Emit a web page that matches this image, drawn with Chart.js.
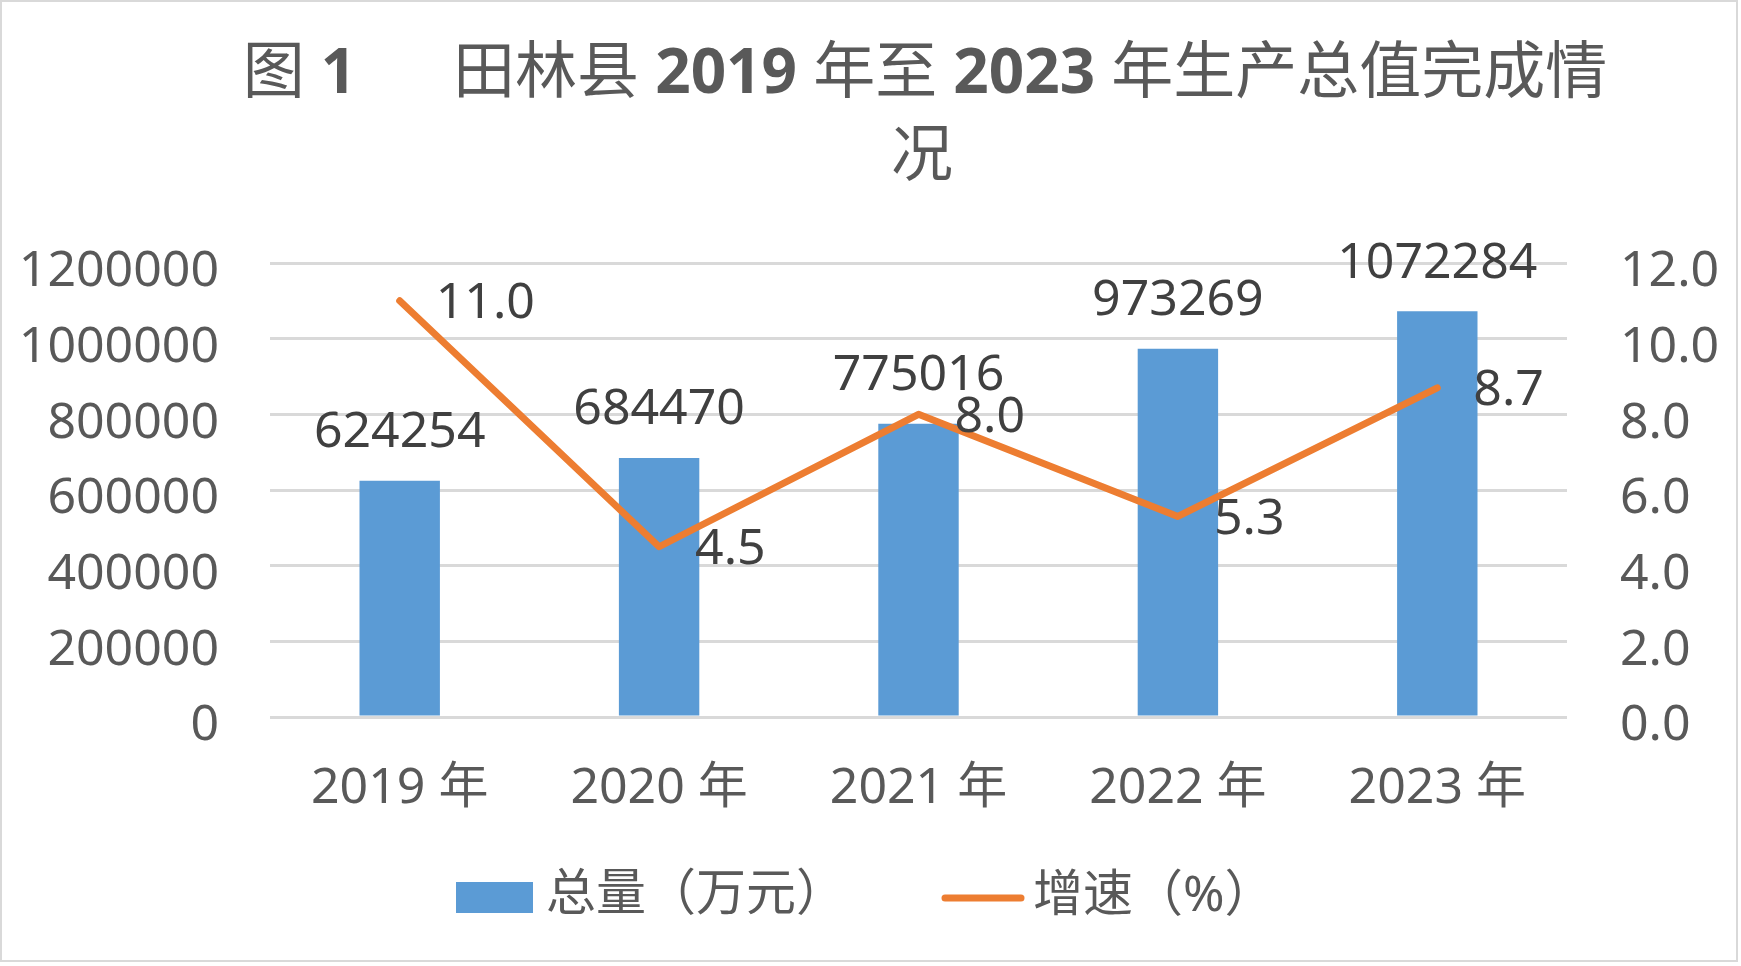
<!DOCTYPE html>
<html>
<head>
<meta charset="utf-8">
<script src="https://cdn.jsdelivr.net/npm/chart.js@4/dist/chart.umd.min.js"></script>
<style>
  html, body { margin: 0; padding: 0; background: #fff; }
  #wrap { position: relative; width: 1741px; height: 966px; }
  #frame { position: absolute; left: 0; top: 0; width: 1734px; height: 958px; border: 2px solid #d9d9d9; pointer-events: none; }
  canvas { position: absolute; left: 0; top: 0; }
</style>
</head>
<body>
<div id="wrap">
  <canvas id="gdpChart" width="1741" height="966"></canvas>
  <div id="frame"></div>
</div>
<script>
// chart data
const years = ['2019 年', '2020 年', '2021 年', '2022 年', '2023 年'];
const totalValues = [624254, 684470, 775016, 973269, 1072284];
const growthRates = [11.0, 4.5, 8.0, 5.3, 8.7];
const leftTicks = [0, 200000, 400000, 600000, 800000, 1000000, 1200000];
const rightTicks = [0.0, 2.0, 4.0, 6.0, 8.0, 10.0, 12.0];
const seriesNames = ['总量（万元）', '增速（%）'];
// title pieces: [text, bold]
const titleLine1 = [['图 ', false], ['1', true], ['      田林县 ', false], ['2019', true], [' 年至 ', false], ['2023', true], [' 年生产总值完成情', false]];
const titleLine2 = '况';

const FONT = "'Noto Sans', 'Noto Sans CJK SC', sans-serif";
const BLUE = '#5b9bd5';
const ORANGE = '#ed7d31';
const GREY = '#595959';

// draws title, legend and value labels
const annotate = {
  id: 'annotate',
  afterDatasetsDraw(chart) {
    const ctx = chart.ctx;
    ctx.save();
    ctx.font = '50px ' + FONT;
    ctx.fillStyle = '#404040';
    ctx.textBaseline = 'middle';

    // bar labels above bars
    ctx.textAlign = 'center';
    chart.getDatasetMeta(1).data.forEach((bar, i) => {
      ctx.fillText(String(totalValues[i]), bar.x, bar.y - 48);
    });

    // line labels to the right of the points
    ctx.textAlign = 'left';
    chart.getDatasetMeta(0).data.forEach((pt, i) => {
      ctx.fillText(growthRates[i].toFixed(1), pt.x + 36, pt.y + 3);
    });
    ctx.restore();
  },
  afterDraw(chart) {
    const ctx = chart.ctx;
    ctx.save();
    ctx.fillStyle = GREY;
    ctx.textBaseline = 'middle';

    // title, line 1 in pieces so the numbers can be bold
    const size = 62;
    let total = 0;
    titleLine1.forEach(([t, b]) => {
      ctx.font = (b ? 'bold ' : '') + size + 'px ' + FONT;
      total += ctx.measureText(t).width;
    });
    let x = 925 - total / 2;
    ctx.textAlign = 'left';
    titleLine1.forEach(([t, b]) => {
      ctx.font = (b ? 'bold ' : '') + size + 'px ' + FONT;
      ctx.fillText(t, x, 75);
      x += ctx.measureText(t).width;
    });
    ctx.font = size + 'px ' + FONT;
    ctx.textAlign = 'center';
    ctx.fillText(titleLine2, 922, 158);

    // legend
    ctx.font = '50px ' + FONT;
    ctx.textAlign = 'left';
    ctx.fillStyle = BLUE;
    ctx.fillRect(456, 882, 77, 31);
    ctx.fillStyle = GREY;
    ctx.fillText(seriesNames[0], 546, 896);

    ctx.strokeStyle = ORANGE;
    ctx.lineWidth = 7;
    ctx.lineCap = 'round';
    ctx.beginPath();
    ctx.moveTo(945, 898);
    ctx.lineTo(1021, 898);
    ctx.stroke();
    ctx.fillText(seriesNames[1], 1033, 897);
    ctx.restore();
  }
};

const chartData = {
  labels: years,
  datasets: [{
    type: 'line',
    label: seriesNames[1],
    data: growthRates,
    yAxisID: 'y1',
    borderColor: ORANGE,
    borderWidth: 7,
    borderCapStyle: 'round',
    borderJoinStyle: 'round',
    pointRadius: 0,
    tension: 0,
    order: 0
  }, {
    type: 'bar',
    label: seriesNames[0],
    data: totalValues,
    yAxisID: 'y',
    backgroundColor: BLUE,
    categoryPercentage: 1,
    barPercentage: 0.31,
    order: 1
  }]
};

const chartOptions = {
  responsive: false,
  devicePixelRatio: 1,
  animation: false,
  layout: { padding: { top: 263, bottom: 139, left: 0, right: 0 } },
  plugins: {
    legend: { display: false },
    title: { display: false },
    tooltip: { enabled: false }
  },
  scales: {
    x: {
      grid: { display: false },
      border: { display: false },
      ticks: { color: GREY, font: { family: FONT, size: 50 }, padding: 34 },
      afterFit(scale) { scale.height = 110; }
    },
    y: {
      position: 'left',
      min: 0,
      max: 1200000,
      afterBuildTicks(scale) { scale.ticks = leftTicks.map(v => ({ value: v })); },
      grid: { color: '#d9d9d9', lineWidth: 3, drawTicks: false },
      border: { display: false },
      ticks: {
        color: GREY,
        font: { family: FONT, size: 50 },
        padding: 51,
        labelOffset: 9,
        callback: v => String(v)
      },
      afterFit(scale) { scale.width = 270; }
    },
    y1: {
      position: 'right',
      min: 0,
      max: 12,
      afterBuildTicks(scale) { scale.ticks = rightTicks.map(v => ({ value: v })); },
      grid: { drawOnChartArea: false, drawTicks: false },
      border: { display: false },
      ticks: {
        color: GREY,
        font: { family: FONT, size: 50 },
        padding: 53,
        labelOffset: 9,
        callback: v => Number(v).toFixed(1)
      },
      afterFit(scale) { scale.width = 174; }
    }
  }
};

new Chart(document.getElementById('gdpChart'), {
  type: 'bar',
  data: chartData,
  options: chartOptions,
  plugins: [annotate]
});
</script>
</body>
</html>
